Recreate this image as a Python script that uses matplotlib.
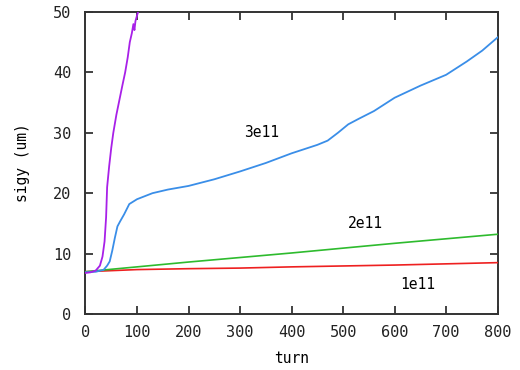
import matplotlib
matplotlib.use("Agg")
import matplotlib.pyplot as plt

# sigma_y growth versus turn for four bunch intensities
turn_hi = [0, 10, 20, 28, 33, 37, 40, 42, 46, 50, 54, 60, 66, 72, 77, 82, 86, 90, 93, 95, 97, 102, 105]
sigy_hi = [6.8, 6.9, 7.2, 8.0, 9.5, 12.0, 16.0, 21.0, 24.5, 27.5, 30.0, 33.0, 35.5, 38.0, 40.0, 42.5, 45.0,
           46.5, 48.0, 47.0, 48.5, 50.0, 51.0]

turn_3e11 = [0, 20, 35, 42, 47, 52, 57, 62, 67, 75, 85, 100, 130, 160, 200, 250, 300, 350, 400, 450, 470,
             490, 510, 530, 560, 600, 650, 700, 740, 770, 800]
sigy_3e11 = [6.9, 7.0, 7.3, 8.0, 8.7, 10.5, 12.6, 14.5, 15.3, 16.5, 18.2, 19.0, 20.0, 20.6, 21.2, 22.3, 23.6,
             25.0, 26.6, 28.0, 28.7, 30.0, 31.4, 32.3, 33.6, 35.8, 37.8, 39.6, 41.8, 43.6, 45.8]

turn_2e11 = [0, 100, 200, 300, 400, 500, 600, 700, 800]
sigy_2e11 = [7.0, 7.8, 8.6, 9.35, 10.1, 10.9, 11.7, 12.45, 13.2]

turn_1e11 = [0, 100, 200, 300, 400, 500, 600, 700, 800]
sigy_1e11 = [7.0, 7.35, 7.5, 7.6, 7.8, 7.95, 8.1, 8.3, 8.5]

xticks = [0, 100, 200, 300, 400, 500, 600, 700, 800]
yticks = [0, 10, 20, 30, 40, 50]

font = "DejaVu Sans Mono"

fig = plt.figure(figsize=(5.2, 3.7), dpi=100)
ax = fig.add_axes([0.1644, 0.1514, 0.7926, 0.8162])

ax.plot(turn_1e11, sigy_1e11, color="#ee2020", lw=1.2, zorder=3)
ax.plot(turn_2e11, sigy_2e11, color="#2ebb2e", lw=1.2, zorder=3)
ax.plot(turn_3e11, sigy_3e11, color="#3a8ee8", lw=1.3, zorder=4)
ax.plot(turn_hi, sigy_hi, color="#a820e8", lw=1.3, zorder=5)

ax.text(341, 30, "3e11", fontfamily=font, fontsize=10.5, ha="center", va="center")
ax.text(543, 14.9, "2e11", fontfamily=font, fontsize=10.5, ha="center", va="center")
ax.text(644, 4.8, "1e11", fontfamily=font, fontsize=10.5, ha="center", va="center")

ax.set_xlim(0, 800)
ax.set_ylim(0, 50)
ax.set_xticks(xticks)
ax.set_yticks(yticks)
ax.tick_params(direction="in", length=6, width=1.2, top=True, right=True,
               labelsize=11, colors="#222222")
ax.tick_params(axis="y", pad=10)
ax.tick_params(axis="x", pad=8)
for lab in ax.get_xticklabels() + ax.get_yticklabels():
    lab.set_fontfamily(font)
for sp in ax.spines.values():
    sp.set_linewidth(1.4)
    sp.set_color("#333333")

ax.set_xlabel("turn", fontfamily=font, fontsize=10.5, labelpad=8)
ax.set_ylabel("sigy (um)", fontfamily=font, fontsize=10.5, labelpad=17)

fig.savefig("out.png", dpi=100)
